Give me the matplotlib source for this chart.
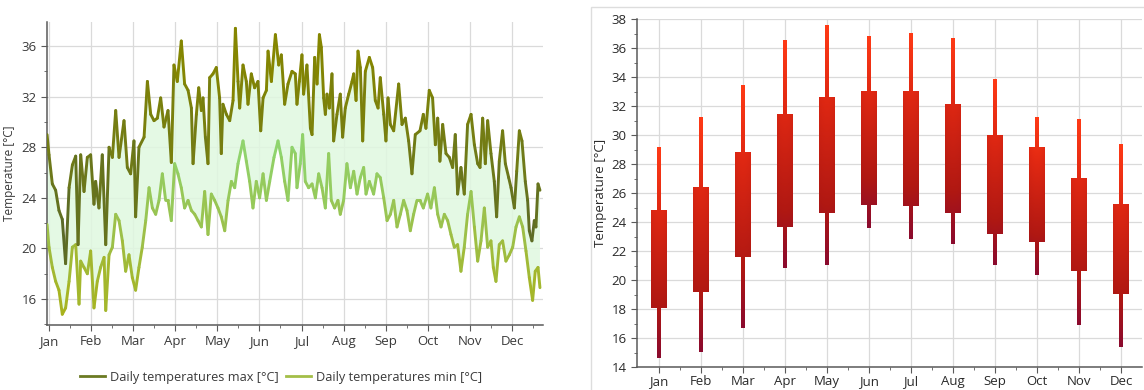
import numpy as np
import matplotlib
matplotlib.use('Agg')
import matplotlib.pyplot as plt
from matplotlib.collections import LineCollection
from matplotlib.colors import LinearSegmentedColormap
from matplotlib.patches import Rectangle
from matplotlib.lines import Line2D
from matplotlib.ticker import MultipleLocator, FixedLocator

plt.rcParams['font.family'] = ['Open Sans', 'DejaVu Sans']

# ---------------- data ----------------
month_labels = ['Jan', 'Feb', 'Mar', 'Apr', 'May', 'Jun',
                'Jul', 'Aug', 'Sep', 'Oct', 'Nov', 'Dec']

max_day = [-1.4, 0.0, 2.4, 4.8, 7.2, 9.6, 12.0, 14.5, 16.9, 19.3, 21.0, 22.9, 25.3, 27.7, 30.1,
           32.5, 33.7, 36.1, 38.5, 41.0, 43.4, 45.8, 48.2, 50.6, 54.2, 56.6, 59.0, 61.4, 62.6,
           65.0, 68.7, 71.1, 73.5, 75.9, 78.3, 80.7, 83.1, 86.0, 88.4, 90.3, 92.7, 95.6, 98.0,
           100.5, 102.9, 104.1, 106.5, 108.2, 110.1, 111.3, 113.0, 114.9, 116.1, 118.5, 120.9,
           123.3, 124.5, 125.7, 128.2, 130.6, 133.0, 134.7, 136.6, 137.8, 140.2, 142.6, 143.8,
           146.2, 148.6, 151.0, 153.0, 154.7, 157.1, 158.3, 160.7, 163.6, 166.0, 167.9, 170.3,
           172.7, 175.6, 178.0, 179.2, 180.9, 182.8, 184.0, 186.4, 188.9, 190.1, 192.0, 193.7,
           195.4, 196.8, 198.5, 199.7, 200.9, 202.6, 204.5, 205.7, 208.1, 210.5, 212.2, 214.1,
           216.6, 219.0, 220.2, 221.9, 223.3, 225.0, 226.7, 228.6, 231.5, 233.9, 235.8, 237.8,
           239.4, 241.9, 243.5, 245.0, 246.7, 249.1, 252.7, 255.1, 257.5, 259.9, 262.3, 264.7,
           268.1, 270.5, 272.4, 274.8, 277.2, 279.2, 280.9, 282.5, 284.5, 286.9, 289.3, 291.7,
           293.6, 295.3, 297.7, 300.1, 302.5, 305.0, 307.4, 309.8, 311.5, 313.4, 315.3, 317.0,
           319.4, 321.8, 323.5, 325.4, 327.8, 329.8, 332.2, 333.9, 336.3, 338.0, 339.9, 341.8,
           344.2, 345.9, 347.1, 349.0, 350.7, 351.9, 353.4, 354.8]
max_temp = [29.0, 27.4, 25.1, 24.6, 23.0, 22.3, 18.8, 24.8, 26.6, 27.3, 20.3, 27.4, 24.5, 27.2, 27.4,
            23.5, 25.3, 23.2, 27.4, 20.3, 28.0, 27.2, 30.9, 27.2, 30.1, 26.4, 25.9, 28.5, 22.5,
            28.0, 28.8, 33.2, 30.6, 30.1, 30.3, 31.9, 29.6, 30.9, 26.8, 34.5, 33.2, 36.4, 33.0,
            32.5, 31.1, 26.7, 30.6, 32.7, 30.9, 31.9, 28.8, 26.7, 33.5, 33.8, 34.3,
            31.9, 27.5, 31.4, 30.6, 30.1, 31.7, 37.4, 33.2, 31.1, 34.5, 33.2, 31.4,
            33.8, 32.7, 33.2, 29.3, 31.9, 32.5, 35.6, 33.2, 36.9, 34.5, 35.3, 31.4,
            33.0, 34.0, 33.8, 31.4, 33.2, 35.3, 32.2, 34.5, 29.5, 29.0, 35.1, 33.0,
            36.9, 35.9, 31.9, 30.6, 32.2, 31.1, 33.8, 28.5, 30.6, 32.2, 28.8, 31.1,
            32.2, 33.2, 33.8, 31.7, 35.6, 34.3, 28.5, 34.0, 35.1, 34.3, 31.7, 31.1,
            33.5, 30.6, 28.5, 31.9, 29.8, 29.3, 33.0, 29.8, 30.3, 28.5, 25.9, 29.0,
            29.3, 30.6, 29.5, 32.5, 31.9, 28.2, 30.3, 26.9, 29.8, 27.5, 27.2, 26.4,
            29.0, 24.3, 26.4, 24.3, 29.8, 30.6, 28.2, 26.7, 26.4, 30.3, 26.7, 30.1,
            27.5, 25.3, 22.5, 26.9, 29.3, 26.7, 25.6, 24.8, 23.2, 26.1, 29.3, 28.5,
            25.3, 23.8, 21.4, 20.6, 22.2, 21.7, 25.1, 24.6]

min_day = [-1.4, 0.0, 2.4, 4.8, 7.2, 9.6, 12.0, 14.5, 16.9, 19.3, 21.7, 22.9, 25.3, 27.7, 30.1,
           32.5, 34.9, 37.3, 39.8, 41.0, 43.4, 45.8, 48.2, 50.6, 53.0, 55.4, 57.8, 60.2, 62.6,
           65.0, 67.4, 69.9, 72.3, 74.7, 77.1, 79.5, 81.9, 84.3, 86.0, 88.4, 90.8, 93.2, 95.6,
           98.0, 100.5, 102.9, 105.3, 107.7, 110.1, 112.5, 114.9, 117.3, 119.7, 122.1, 124.5,
           127.0, 129.4, 131.8, 134.2, 136.6, 140.2, 142.6, 145.0, 147.4, 149.8, 152.2, 154.7,
           157.1, 159.5, 162.6, 165.5, 167.9, 170.3, 172.7, 175.6, 178.0, 179.2, 181.6, 183.3,
           185.2, 187.6, 190.1, 192.5, 194.9, 197.3, 199.7, 202.1, 204.0, 206.4, 208.8, 210.5,
           212.9, 215.3, 217.8, 220.2, 222.6, 225.0, 227.4, 229.1, 231.5, 234.6, 237.0, 239.4,
           241.9, 244.3, 246.7, 249.1, 251.5, 253.9, 256.3, 258.7, 261.1, 263.5, 265.9, 268.1,
           270.5, 273.6, 276.0, 278.5, 280.9, 283.3, 285.7, 288.1, 290.5, 292.9, 295.3, 297.7,
           300.1, 302.5, 305.0, 307.4, 309.8, 312.2, 314.6, 317.0, 319.4, 321.1, 323.0, 325.4,
           327.8, 330.2, 332.7, 335.1, 337.5, 339.9, 342.3, 344.7, 347.1, 349.5, 351.4, 353.4,
           354.8]
min_temp = [21.9, 20.1, 18.5, 17.4, 16.7, 14.8, 15.3, 17.4, 20.1, 20.3, 15.6, 19.0, 18.5, 18.0, 19.8,
            15.3, 17.4, 18.5, 19.3, 15.1, 19.5, 20.1, 22.7, 22.2, 20.6, 18.2, 19.5, 17.7, 16.7,
            18.5, 20.1, 22.2, 24.8, 23.2, 22.7, 23.8, 25.9, 23.8, 23.8, 22.2, 26.7, 25.9, 24.8,
            23.2, 23.8, 23.0, 22.7, 22.2, 21.7, 24.5, 21.1, 24.3, 23.8, 23.2, 22.5,
            21.4, 23.8, 25.3, 24.8, 26.7, 28.5, 26.9, 25.3, 23.2, 25.3, 24.0, 25.9,
            23.8, 25.3, 27.2, 28.5, 27.2, 25.3, 23.8, 28.0, 27.5, 24.8, 26.7, 29.0,
            25.3, 24.8, 25.1, 24.0, 25.9, 24.8, 23.2, 27.5, 23.8, 23.2, 23.8, 22.7,
            23.8, 26.7, 24.8, 26.1, 24.3, 25.6, 26.4, 24.3, 25.3, 24.3, 25.9, 25.6,
            24.0, 22.2, 22.7, 23.8, 21.7, 22.7, 23.8, 23.0, 21.4, 22.7, 23.8, 23.8,
            23.2, 24.3, 23.2, 24.8, 22.7, 21.7, 22.7, 22.2, 21.1, 20.1, 20.3, 18.2,
            20.1, 22.7, 24.5, 21.7, 19.0, 20.6, 23.2, 20.1, 20.6, 18.5, 17.4, 20.3,
            20.6, 19.0, 19.5, 20.1, 21.7, 22.5, 21.7, 19.8, 17.7, 15.9, 18.2, 18.5,
            16.9]

abs_max = [29.1, 31.2, 33.4, 36.5, 37.5, 36.8, 37.0, 36.7, 33.8, 31.2, 31.1, 29.4]
avg_max = [24.8, 26.4, 28.8, 31.4, 32.55, 33.0, 33.0, 32.1, 30.0, 29.1, 27.0, 25.2]
avg_min = [18.05, 19.2, 21.6, 23.65, 24.6, 25.15, 25.1, 24.6, 23.2, 22.6, 20.6, 19.0]
abs_min = [14.6, 15.0, 16.7, 20.8, 21.0, 23.6, 22.8, 22.5, 21.0, 20.35, 16.9, 15.4]

# ---------------- figure ----------------
W, H = 1144, 390
fig = plt.figure(figsize=(W / 100, H / 100), dpi=100)

GRID = '#dadada'
SPINE = '#5a5a5a'
TXT = '#3a3a3a'

# ---------- left: daily temperatures ----------
ax1 = fig.add_axes([47 / W, 1 - 325 / H, (543 - 47) / W, (325 - 22) / H])
mx = np.array(max_day); my = np.array(max_temp)
nx = np.array(min_day); ny = np.array(min_temp)

ax1.fill(np.concatenate([mx, nx[::-1]]), np.concatenate([my, ny[::-1]]),
         facecolor='#e0f8e0', edgecolor='none', alpha=0.85, zorder=1)


def grad_line(ax, x, y, cmap, vmin, vmax, lw):
    pts = np.column_stack([x, y])
    segs = np.stack([pts[:-1], pts[1:]], axis=1)
    lc = LineCollection(segs, cmap=cmap, norm=plt.Normalize(vmin, vmax),
                        linewidths=lw, capstyle='round', joinstyle='round', zorder=3)
    lc.set_array((y[:-1] + y[1:]) / 2)
    ax.add_collection(lc)


cmap_max = LinearSegmentedColormap.from_list('mx', ['#55662a', '#6f7a18', '#858600'])
cmap_min = LinearSegmentedColormap.from_list('mn', ['#a8b21c', '#9cc04a', '#8fd46e'])
grad_line(ax1, nx, ny, cmap_min, 15, 28, 2.1)
grad_line(ax1, mx, my, cmap_max, 19, 35, 2.1)

month_pos = np.arange(12) * 365 / 12
ax1.set_xlim(-1.45, 357)
ax1.set_ylim(13.95, 37.9)
ax1.xaxis.set_major_locator(FixedLocator(month_pos))
ax1.xaxis.set_minor_locator(FixedLocator(month_pos + 365 / 24))
ax1.set_xticklabels(month_labels)
ax1.yaxis.set_major_locator(MultipleLocator(4))
ax1.yaxis.set_minor_locator(MultipleLocator(2))
ax1.grid(True, which='major', color=GRID, lw=0.9, zorder=0)
ax1.set_axisbelow(True)
for s in ['top', 'right']:
    ax1.spines[s].set_visible(False)
for s in ['left', 'bottom']:
    ax1.spines[s].set_color(SPINE)
    ax1.spines[s].set_linewidth(1.1)
ax1.tick_params(which='both', colors=SPINE, labelcolor=TXT, labelsize=9.5, direction='out')
ax1.tick_params(which='major', length=4)
ax1.tick_params(which='minor', length=2.5)
ax1.set_ylabel('Temperature [°C]', fontsize=8.5, color=TXT, labelpad=4)

handles = [Line2D([0], [0], color='#6b7a22', lw=2.0),
           Line2D([0], [0], color='#a3be48', lw=2.0)]
fig.legend(handles, ['Daily temperatures max [°C]', 'Daily temperatures min [°C]'],
           loc='center', bbox_to_anchor=(281 / W, 1 - 377 / H), ncol=2, frameon=False,
           fontsize=9.2, handlelength=2.0, handletextpad=0.4, columnspacing=0.5,
           labelcolor=TXT)

# ---------- right: monthly candles ----------
fig.add_artist(Rectangle((591 / W, -0.05), 1, 1 - 7 / H + 0.05, transform=fig.transFigure,
                         fill=False, edgecolor='#dddddd', lw=1.0))
ax2 = fig.add_axes([637 / W, 1 - 367 / H, (1142 - 637) / W, (367 - 19) / H])
cmap_c = LinearSegmentedColormap.from_list(
    'c', [(0.0, '#8a0a2e'), (0.25, '#b01812'), (0.7, '#e02812'), (1.0, '#ff3a16')])
xs = np.arange(len(month_labels))
ww, bw = 0.095, 0.38
for i in xs:
    lo, hi = abs_min[i], abs_max[i]
    span = hi - lo
    g = np.linspace(0, 1, 256).reshape(-1, 1)
    ax2.imshow(g, extent=(i - ww / 2, i + ww / 2, lo, hi), origin='lower', cmap=cmap_c,
               vmin=0, vmax=1, aspect='auto', interpolation='bilinear', zorder=3)
    f0 = (avg_min[i] - lo) / span
    f1 = (avg_max[i] - lo) / span
    gb = np.linspace(f0, f1, 256).reshape(-1, 1) * np.ones((1, 16))
    shade = 1 - 0.10 * np.abs(np.linspace(-1, 1, 16)) ** 2
    ax2.imshow(gb * shade[None, :], extent=(i - bw / 2, i + bw / 2, avg_min[i], avg_max[i]),
               origin='lower', cmap=cmap_c, vmin=0, vmax=1, aspect='auto',
               interpolation='bilinear', zorder=4)

ax2.set_xlim(-0.52, 11.5)
ax2.set_ylim(14, 38)
ax2.set_xticks(xs)
ax2.set_xticklabels(month_labels)
ax2.xaxis.set_minor_locator(FixedLocator(xs[:-1] + 0.5))
ax2.yaxis.set_major_locator(MultipleLocator(2))
ax2.yaxis.set_minor_locator(MultipleLocator(1))
ax2.grid(True, which='major', color=GRID, lw=0.9, zorder=0)
ax2.set_axisbelow(True)
for s in ['top', 'right']:
    ax2.spines[s].set_visible(False)
for s in ['left', 'bottom']:
    ax2.spines[s].set_color(SPINE)
    ax2.spines[s].set_linewidth(1.1)
ax2.tick_params(which='both', colors=SPINE, labelcolor='#2a2a2a', labelsize=9.5, direction='out')
ax2.tick_params(axis='x', which='major', length=4, pad=2)
ax2.tick_params(axis='y', which='major', length=4)
ax2.tick_params(which='minor', length=2.5)
ax2.set_ylabel('Temperature [°C]', fontsize=9.5, color='#2a2a2a', labelpad=3)

fig.savefig('out.png', dpi=100, facecolor='white')
